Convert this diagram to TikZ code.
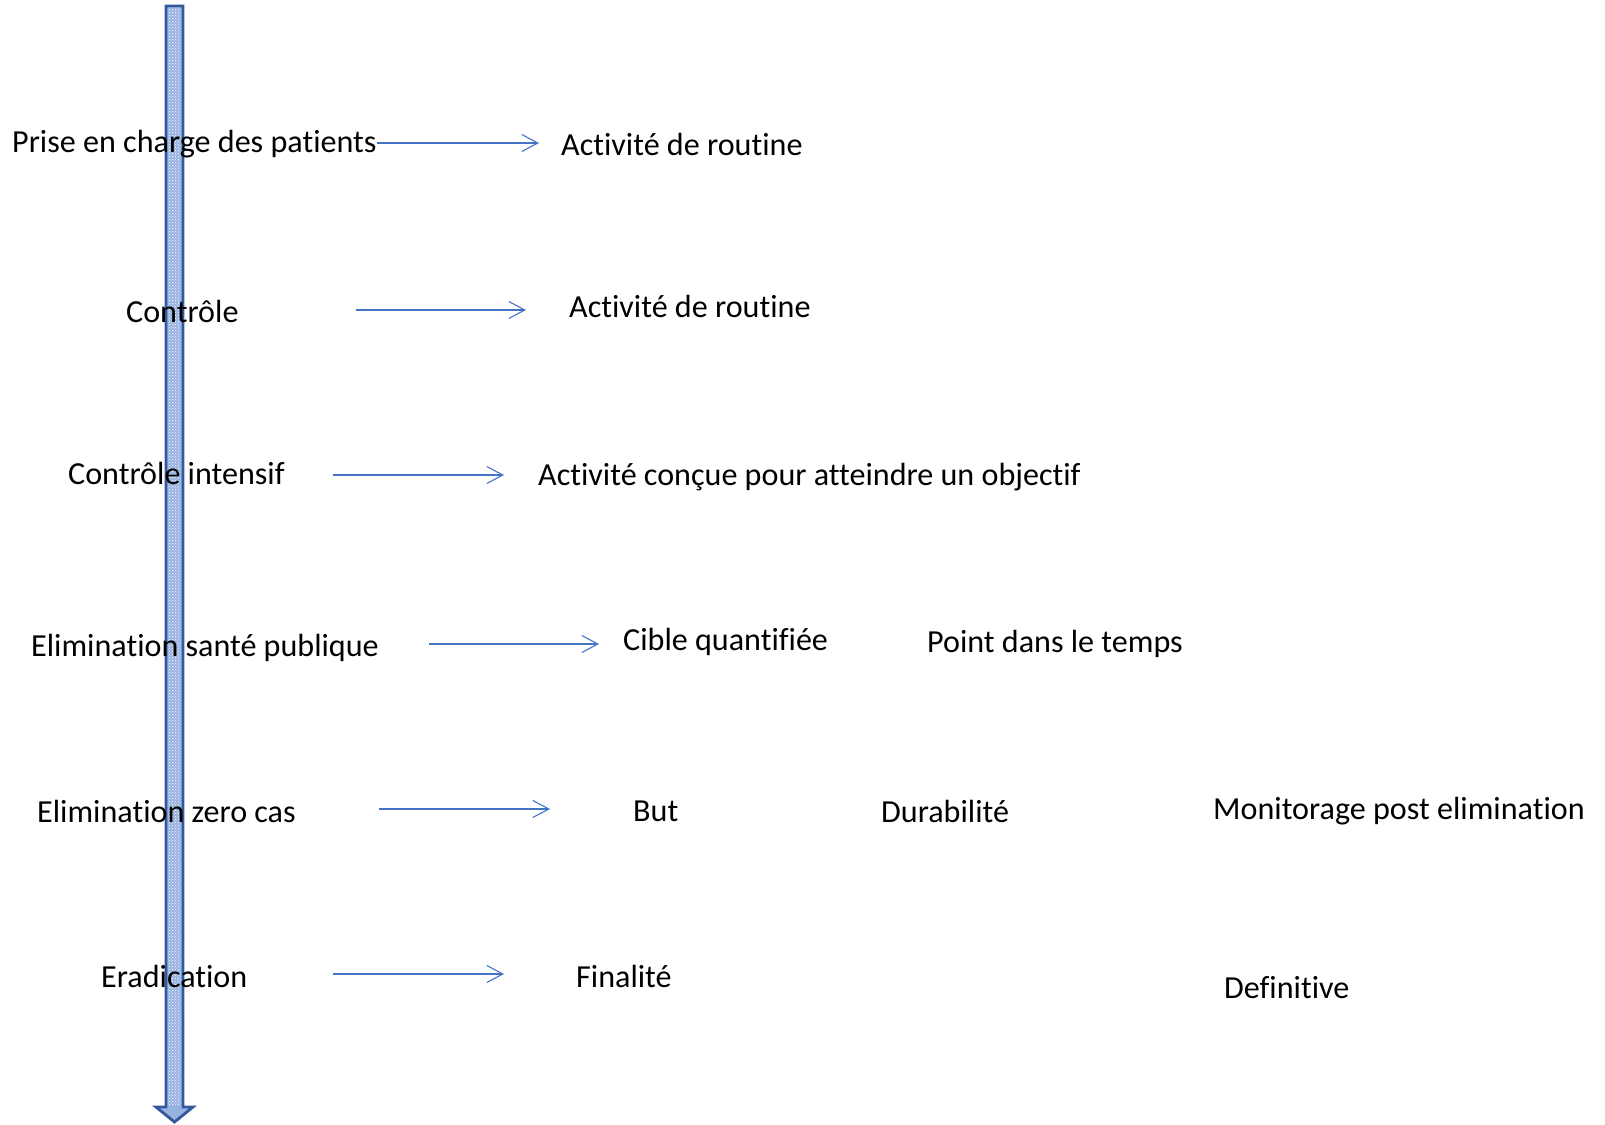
\documentclass[tikz,border=0pt]{standalone}
\usepackage{fontspec}
\setmainfont[Ligatures={NoCommon,NoRequired,NoContextual}, Contextuals=NoAlternate]{Carlito}
\usepackage{xcolor}
\usetikzlibrary{positioning, arrows.meta, patterns}
\definecolor{linkblue}{RGB}{68,114,196}
\definecolor{barblue}{RGB}{52,88,156}
\definecolor{barfill}{RGB}{150,178,224}

\begin{document}
\begin{tikzpicture}[
    x=1pt, y=-1pt,
    >={Straight Barb[length=16pt, width=17pt]},
    label/.style={anchor=west, inner sep=0pt, yshift=-1.5pt, font=\fontsize{32.1}{36}\selectfont},
    link/.style={->, line width=1.1pt, linkblue}
]
\useasboundingbox (0,0) rectangle (1605,1124);

% time axis
\draw[barblue, line width=2.8pt, fill=barfill, line join=miter]
    (166,6) -- (183,6) -- (183,1107) -- (193,1107) -- (174.5,1122)
    -- (156,1107) -- (166,1107) -- cycle;
\fill[pattern=crosshatch dots, pattern color=white]
    (168,8) rectangle (181,1105);

% stages, left column
\node[label] (soin)    at (12,143)  {Prise en charge des patients};
\node[label] (ctrl)    at (126,310) {Contrôle};
\node[label] (ctrlint) at (68,472)  {Contrôle intensif};
\node[label] (elimsp)  at (31,646)  {Elimination santé publique};
\node[label] (elimzc)  at (37,810)  {Elimination zero cas};
\node[label] (erad)    at (101,975) {Eradication};

% what each stage means
\node[label] (routA)  at (561,143)  {Activité de routine};
\node[label] (routB)  at (569,305)  {Activité de routine};
\node[label] (objet)  at (538,476)  {Activité conçue pour atteindre un objectif};
\node[label] (cible)  at (623,640)  {Cible quantifiée};
\node[label] (temps)  at (927,642)  {Point dans le temps};
\node[label] (but)    at (633,810)  {But};
\node[label] (durab)  at (881,810)  {Durabilité};
\node[label] (monit)  at (1213,810) {Monitorage post elimination};
\node[label] (final)  at (576,975)  {Finalité};
\node[label] (defin)  at (1224,986) {Definitive};

% arrow ends
\coordinate (a1) at (377,143); \coordinate (b1) at (539,143);
\coordinate (a2) at (356,310); \coordinate (b2) at (526,310);
\coordinate (a3) at (333,475); \coordinate (b3) at (504,475);
\coordinate (a4) at (429,644); \coordinate (b4) at (599,644);
\coordinate (a5) at (379,809); \coordinate (b5) at (550,809);
\coordinate (a6) at (333,974); \coordinate (b6) at (504,974);

\draw[link] (a1) -- (b1);
\draw[link] (a2) -- (b2);
\draw[link] (a3) -- (b3);
\draw[link] (a4) -- (b4);
\draw[link] (a5) -- (b5);
\draw[link] (a6) -- (b6);

\end{tikzpicture}
\end{document}
